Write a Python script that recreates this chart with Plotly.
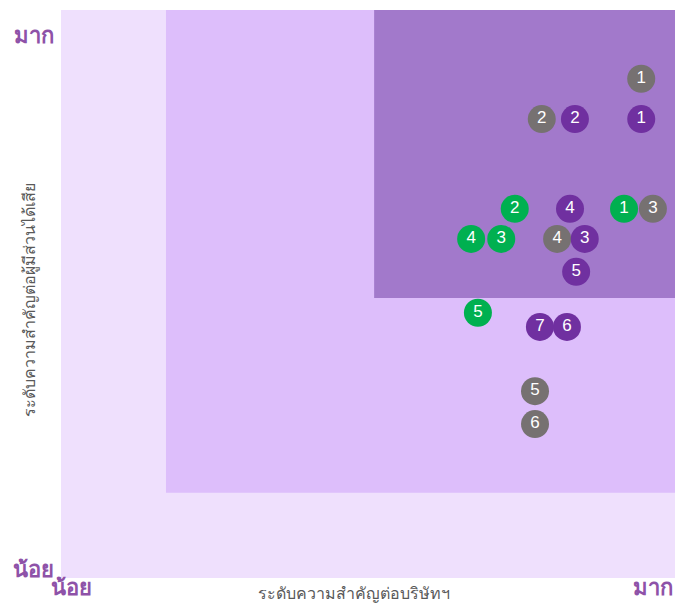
import plotly.graph_objects as go

# Data (materiality matrix)
gray_labels = ["1", "2", "3", "4", "5", "6"]
gray_x = [9.45, 7.83, 9.64, 8.08, 7.72, 7.72]
gray_y = [8.79, 8.08, 6.50, 5.97, 3.29, 2.71]

purple_labels = ["1", "2", "3", "4", "5", "6", "7"]
purple_x = [9.45, 8.37, 8.53, 8.29, 8.39, 8.24, 7.80]
purple_y = [8.08, 8.08, 5.97, 6.50, 5.39, 4.42, 4.42]

green_labels = ["1", "2", "3", "4", "5"]
green_x = [9.17, 7.39, 7.17, 6.68, 6.79]
green_y = [6.50, 6.50, 5.97, 5.97, 4.67]

x_title = "ระดับความสำคัญต่อบริษัทฯ"
y_title = "ระดับความสำคัญต่อผู้มีส่วนได้เสีย"
low_text = "น้อย"
high_text = "มาก"

fig = go.Figure()

# Background zones
fig.add_shape(type="rect", x0=0, x1=10, y0=0, y1=10, line_width=0,
              fillcolor="#EFE0FD", layer="below")
fig.add_shape(type="rect", x0=1.71, x1=10, y0=1.50, y1=10, line_width=0,
              fillcolor="#DDBEFB", layer="below")
fig.add_shape(type="rect", x0=5.10, x1=10, y0=4.93, y1=10, line_width=0,
              fillcolor="#A279CB", layer="below")

def add_series(xs, ys, labels, color):
    fig.add_trace(go.Scatter(
        x=xs, y=ys, mode="markers+text", text=labels,
        textposition="middle center",
        textfont=dict(color="white", size=17, family="Liberation Sans, Arial"),
        marker=dict(size=28, color=color, line=dict(width=0)),
        hoverinfo="skip", showlegend=False,
    ))

add_series(gray_x, gray_y, gray_labels, "#767171")
add_series(purple_x, purple_y, purple_labels, "#7030A0")
add_series(green_x, green_y, green_labels, "#00B050")

lab_font = dict(color="#8E52A8", size=22, family="Noto Sans, sans-serif")
title_font = dict(color="#595959", size=16, family="Noto Sans, sans-serif")

annotations = [
    dict(text="<b>%s</b>" % high_text, x=-0.008, y=0.957, xref="paper", yref="paper",
         xanchor="right", yanchor="middle", showarrow=False, font=lab_font),
    dict(text="<b>%s</b>" % low_text, x=-0.008, y=0.018, xref="paper", yref="paper",
         xanchor="right", yanchor="middle", showarrow=False, font=lab_font),
    dict(text="<b>%s</b>" % low_text, x=-0.02, y=-0.044, xref="paper", yref="paper",
         xanchor="left", yanchor="bottom", showarrow=False, font=lab_font),
    dict(text="<b>%s</b>" % high_text, x=1.0, y=-0.044, xref="paper", yref="paper",
         xanchor="right", yanchor="bottom", showarrow=False, font=lab_font),
    dict(text=x_title, x=0.478, y=-0.027, xref="paper", yref="paper",
         xanchor="center", yanchor="middle", showarrow=False, font=title_font),
    dict(text=y_title, x=-0.052, y=0.49, xref="paper", yref="paper", textangle=-90,
         xanchor="center", yanchor="middle", showarrow=False, font=title_font),
]

fig.update_layout(
    width=675, height=603,
    margin=dict(l=61, r=0, t=10, b=25),
    paper_bgcolor="white", plot_bgcolor="white",
    xaxis=dict(range=[0, 10], visible=False, fixedrange=True),
    yaxis=dict(range=[0, 10], visible=False, fixedrange=True),
    annotations=annotations,
)

fig.write_html(
    "out.html",
    config={"displayModeBar": False},
    post_script="document.body.style.margin='0';document.body.style.overflow='hidden';",
)
